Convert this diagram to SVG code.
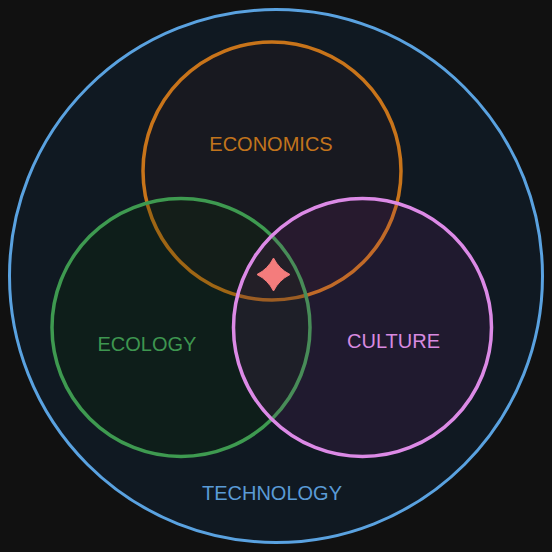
<svg xmlns="http://www.w3.org/2000/svg" width="552" height="552" viewBox="0 0 552 552">
<style>
.lbl{font-family:"Liberation Sans",Arial,sans-serif;font-size:20px;text-anchor:middle}
.ring{stroke-width:3.5}
</style>
<rect width="552" height="552" fill="#111111"/>
<g id="technology">
<circle cx="276" cy="276" r="266.5" fill="#1070d0" fill-opacity="0.09" stroke="#5aa2e0" stroke-width="3"/>
<text class="lbl" x="272" y="500" fill="#5a9bd6">TECHNOLOGY</text>
</g>
<g id="economics">
<circle class="ring" cx="272" cy="171" r="129" fill="#b03000" fill-opacity="0.05" stroke="#c8741a"/>
<text class="lbl" x="271" y="151" fill="#c2741c">ECONOMICS</text>
</g>
<g id="ecology">
<circle class="ring" cx="181" cy="327.5" r="129" fill="#0a3000" fill-opacity="0.22" stroke="#3e9a50"/>
<text class="lbl" x="147" y="351" fill="#3e9650">ECOLOGY</text>
</g>
<g id="culture">
<circle class="ring" cx="362.5" cy="327.5" r="129" fill="#962b97" fill-opacity="0.12" stroke="#dc8ae6"/>
<text class="lbl" x="393.5" y="348" fill="#d88ae0">CULTURE</text>
</g>
<g id="center">
<path d="M273.5 258 Q279 269 290 274.5 Q279 280 273.5 291 Q268 280 257 274.5 Q268 269 273.5 258 Z" fill="#f47c7c" stroke="#f47c7c" stroke-width="1" stroke-linejoin="round"/>
</g>
<g id="connectors"/>
</svg>
